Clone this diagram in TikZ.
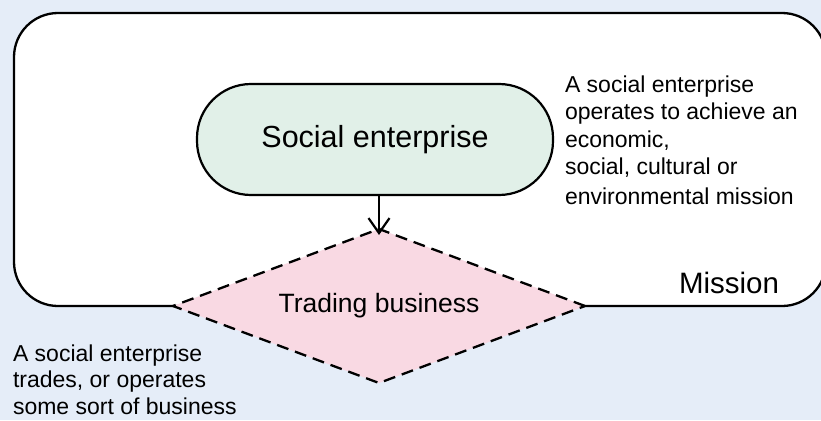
\documentclass[tikz,border=0pt]{standalone}
\usepackage{fontspec}
\setmainfont{Liberation Sans}
\usetikzlibrary{shapes.geometric,arrows.meta}
\definecolor{bgblue}{HTML}{E5EDF8}
\definecolor{segreen}{HTML}{E1F0E8}
\definecolor{tradepink}{HTML}{F9D9E3}
\tikzset{
  missionbox/.style={draw=black, fill=white, line width=2.3pt, rounded corners=44pt,
    rectangle, minimum width=812pt, minimum height=293pt, inner sep=0pt, outer sep=0pt},
  sebox/.style={draw=black, fill=segreen, line width=2.2pt, rounded corners=54pt,
    rectangle, minimum width=356pt, minimum height=111pt, inner sep=0pt, outer sep=0pt,
    font=\fontsize{30.5}{35}\selectfont},
  tradebox/.style={draw=black, fill=tradepink, line width=2.3pt, dash pattern=on 12pt off 7pt,
    diamond, aspect=2.675, minimum width=412pt, minimum height=154pt, inner sep=0pt, outer sep=0pt,
    font=\fontsize{26.5}{30}\selectfont},
  flow/.style={draw=black, line width=2.2pt, -{Straight Barb[length=15pt,width=21pt,line width=2.2pt]}},
  desc/.style={anchor=north west, align=left, inner sep=0pt, outer sep=0pt},
  bigtitle/.style={anchor=base, inner sep=0pt, font=\fontsize{29.5}{34}\selectfont}
}
\begin{document}
\begin{tikzpicture}[x=1pt, y=-1pt]
  \useasboundingbox (0,0) rectangle (821,420);
  \fill[bgblue] (0,0) rectangle (821,420);
  \begin{scope}
    \clip (0,0) rectangle (821,420);
    \node[missionbox] (mission) at (420,159.5) {};
  \end{scope}
  \node[sebox] (se) at (375,139.5) {Social enterprise};
  \node[tradebox] (trade) at (379,306) {\raisebox{-1pt}{Trading business}};
  \draw[flow] (se.south -| trade.north) -- ([yshift=-6pt]trade.north);
  \node[bigtitle] (missionlabel) at (729,293) {Mission};
  \node[desc, font=\fontsize{23}{27.5}\selectfont] (missiontext) at (565,75.5)
    {A social enterprise\\operates to achieve an\\economic,\\social, cultural or\\[2.5pt]environmental mission};
  \node[desc, font=\fontsize{23}{26.5}\selectfont] (tradetext) at (13,344.5)
    {A social enterprise\\trades, or operates\\some sort of business};
\end{tikzpicture}
\end{document}
